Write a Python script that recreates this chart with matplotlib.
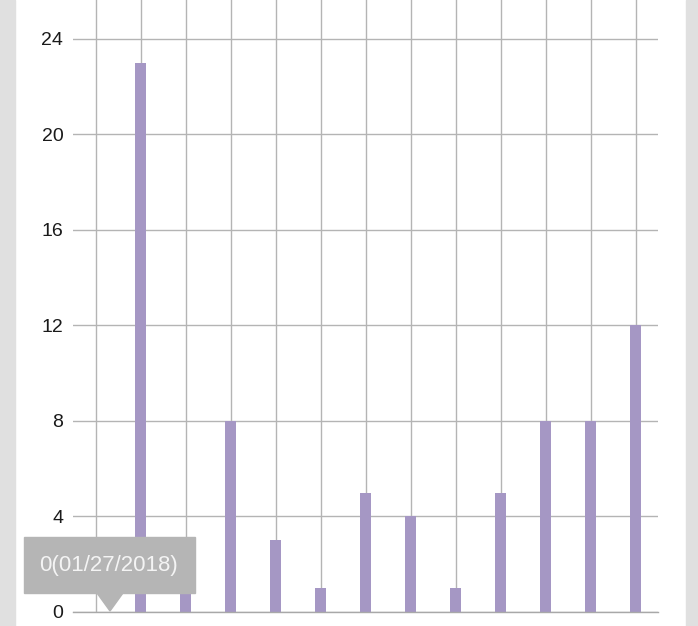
import matplotlib.pyplot as plt
from matplotlib.patches import Rectangle, Polygon

plt.rcParams['font.family'] = ['Liberation Sans', 'DejaVu Sans']

# dados do gráfico
dias = list(range(13))
valores = [0, 23, 2, 8, 3, 1, 5, 4, 1, 5, 8, 8, 12]
yticks = [0, 4, 8, 12, 16, 20, 24]
tooltip = "0(01/27/2018)"

W, H = 698, 626
fig = plt.figure(figsize=(W / 100, H / 100), dpi=100)
fig.patch.set_facecolor('white')

# faixas cinzas laterais
fig.patches.append(Rectangle((0, 0), 15 / W, 1, transform=fig.transFigure,
                             color='#e0e0e0', zorder=0))
fig.patches.append(Rectangle((686 / W, 0), 12 / W, 1, transform=fig.transFigure,
                             color='#e0e0e0', zorder=0))

ax = fig.add_axes([73 / W, 14 / H, (658 - 73) / W, 612 / H])
ax.set_facecolor('white')

ax.bar(dias, valores, width=0.24, color='#a597c4', zorder=3)

ax.set_xlim(-0.5, 12.5)
ax.set_ylim(0, 25.63)
ax.set_yticks(yticks)
ax.set_xticks(dias)
ax.tick_params(axis='x', length=0, labelbottom=False)
ax.tick_params(axis='y', length=0, labelsize=14, pad=7, colors='#1a1a1a')
ax.grid(True, color='#b4b4b4', linewidth=1, zorder=1)

for s in ['left', 'right', 'top']:
    ax.spines[s].set_visible(False)
ax.spines['bottom'].set_color('#a8a8a8')
ax.spines['bottom'].set_linewidth(1)
ax.spines['bottom'].set_zorder(4)

# tooltip
def fx(px):
    return px / W

def fy(py):
    return 1 - py / H

fig.patches.append(Rectangle((fx(24), fy(593)), fx(195) - fx(24), fy(537) - fy(593),
                             transform=fig.transFigure, color='#b5b5b5', zorder=10))
fig.patches.append(Polygon([(fx(97), fy(593)), (fx(123), fy(593)), (fx(110), fy(611))],
                           transform=fig.transFigure, color='#b5b5b5', zorder=10))
fig.text(fx(109), fy(565), tooltip, color='#f4f4f4', fontsize=16,
         ha='center', va='center', zorder=11)

fig.savefig('out.png', dpi=100)
